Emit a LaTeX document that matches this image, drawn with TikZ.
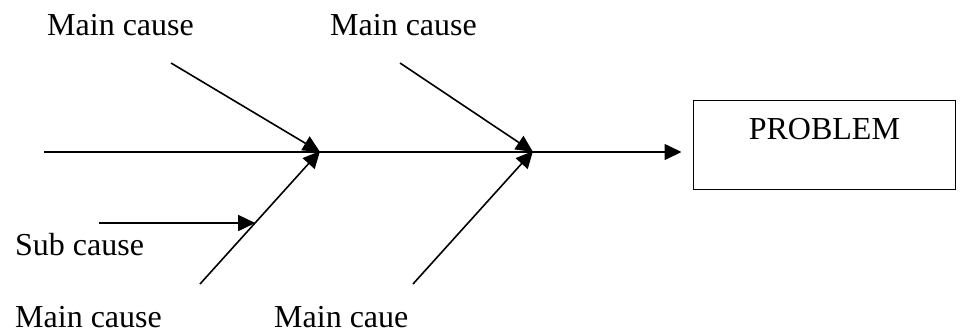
\documentclass[tikz,border=0pt]{standalone}
\usepackage{fontspec}
\setmainfont{Liberation Serif}
\usetikzlibrary{arrows.meta,calc}

\begin{document}
\begin{tikzpicture}[
  x=1pt,y=-1pt,
  font=\fontsize{32}{38}\selectfont,
  lbl/.style={anchor=base west,inner sep=0pt},
  bone/.style={line width=1.6pt},
  arr/.style={bone,-{Triangle[length=17pt,width=16pt]}},
  probbox/.style={draw,line width=1.3pt,anchor=north west,inner sep=0pt,
    minimum width=262.5pt,text height=39.8pt,text depth=49.7pt}
]
\useasboundingbox (0,0) rectangle (960,335);
% spine and joints
\coordinate (tail) at (44,152);
\coordinate (j1) at (320,152);
\coordinate (j2) at (533,152);
\node[probbox] (problem) at (692.5,99.5) {PROBLEM};
% bone ends
\coordinate (t1) at (171,63);
\coordinate (t2) at (400,63);
\coordinate (b1) at (200,284);
\coordinate (b2) at (413,284);
\coordinate (sub) at (99,223);
\coordinate (s1) at ($(b1)!0.46!(j1)$);
% labels
\node[lbl] (lt1) at (47,35.7) {Main cause};
\node[lbl] (lt2) at (330,35.7) {Main cause};
\node[lbl] (lsub) at (15,255) {Sub cause};
\node[lbl] (lb1) at (15,327.5) {Main cause};
\node[lbl] (lb2) at (274,327.5) {Main caue};
% arrows
\draw[bone] (tail) -- (j1);
\draw[bone] (j1) -- (j2);
\draw[arr,shorten >=11pt] (j2) -- (j2 -| problem.west);
\draw[arr] (t1) -- (j1);
\draw[arr] (b1) -- ([yshift=1pt]j1);
\draw[arr] (t2) -- (j2);
\draw[arr] (b2) -- ([yshift=1pt]j2);
\draw[arr] (sub) -- (sub -| s1);
\end{tikzpicture}
\end{document}
